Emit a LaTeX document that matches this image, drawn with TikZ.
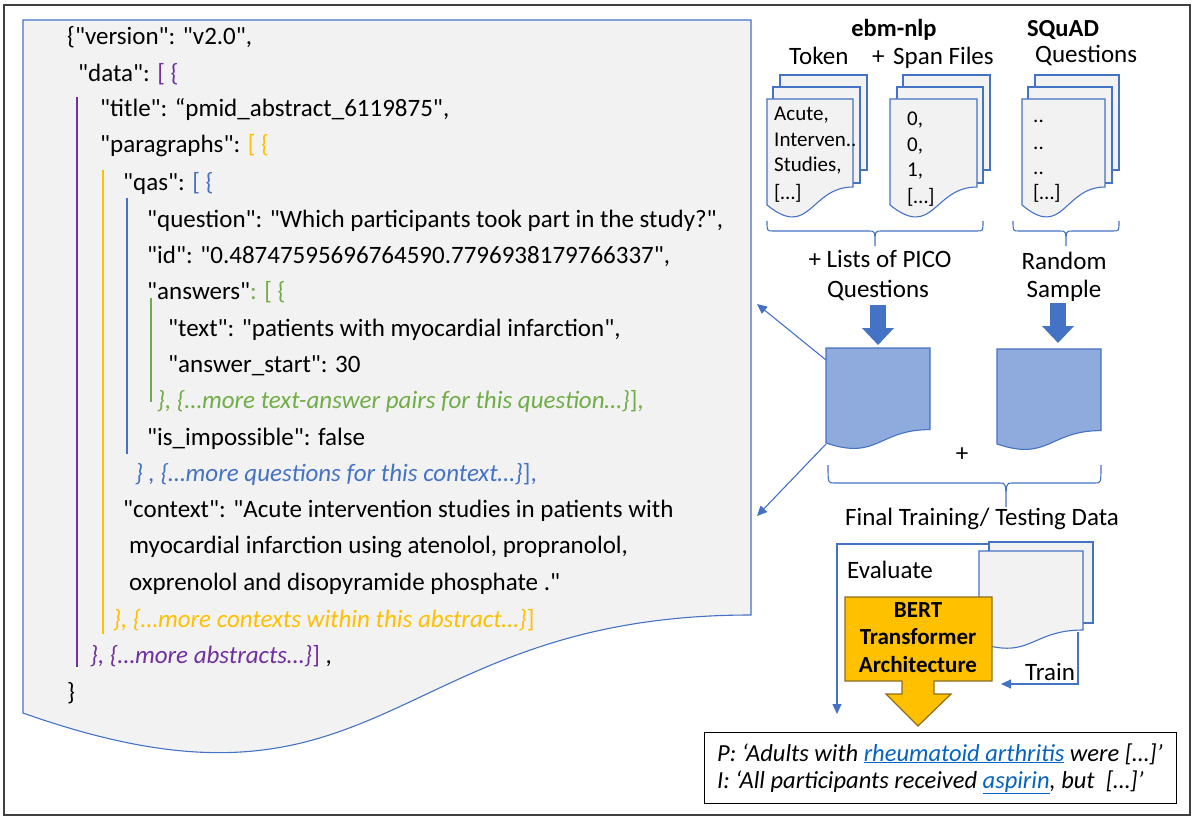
\documentclass[tikz,border=0pt]{standalone}
\usepackage{fontspec}
\setmainfont{Carlito}[Ligatures=TeXOff]
\usetikzlibrary{arrows.meta,calc}
\definecolor{docfill}{HTML}{F2F2F2}
\definecolor{docline}{HTML}{4472C4}
\definecolor{jpurple}{HTML}{7030A0}
\definecolor{jgold}{HTML}{FFC000}
\definecolor{jblue}{HTML}{4472C4}
\definecolor{jgreen}{HTML}{70AD47}
\definecolor{bluefill}{HTML}{8FAADC}
\definecolor{linkblue}{HTML}{0563C1}
\definecolor{bertline}{HTML}{8C6D1F}
\definecolor{framegray}{HTML}{404040}
\newcommand{\wdoc}[7]{%
  \path[#1] (#2,#3) -- ({#2+#4},#3) -- ({#2+#4},#5) .. controls ({#2+0.5*#4},#5) and ({#2+0.5*#4},#6) .. (#2,#7) -- cycle;}
\newcommand{\hbrace}[6]{%
  \draw[bracestyle] (#1,#4) .. controls (#1,#5) .. ({#1+6},#5) -- ({#3-6},#5) .. controls (#3,#5) .. (#3,#6)
    .. controls (#3,#5) .. ({#3+6},#5) -- ({#2-6},#5) .. controls (#2,#5) .. (#2,#4);}
\tikzset{
  json/.style={anchor=base west, inner sep=0pt, font=\fontsize{25}{30}\selectfont},
  lbl/.style={anchor=base, inner sep=0pt, font=\fontsize{25}{30}\selectfont},
  boldlbl/.style={anchor=base, inner sep=0pt, font=\fontsize{24.5}{30}\selectfont\bfseries},
  pagetxt/.style={anchor=base west, inner sep=0pt, font=\fontsize{21}{25}\selectfont},
  outtxt/.style={anchor=base west, inner sep=0pt, font=\fontsize{24.5}{29}\selectfont\itshape},
  berttxt/.style={anchor=base, inner sep=0pt, font=\fontsize{23}{28}\selectfont\bfseries},
  page/.style={fill=docfill, draw=docline, line width=1.1pt},
  bdoc/.style={fill=bluefill, draw=docline, line width=1.1pt},
  vbar/.style={line width=1.3pt},
  thinarrow/.style={draw=docline, line width=1.1pt, -{Triangle[length=10pt,width=9pt]}},
  thickarrow/.style={draw=docline, line width=16pt, -{Triangle[length=17pt,width=31pt]}},
  bracestyle/.style={draw=docline, line width=1.1pt},
}
\begin{document}
\begin{tikzpicture}[x=1pt,y=-1pt]
\useasboundingbox (0,0) rectangle (1196,821);
\draw[framegray, line width=2pt] (4,5) rectangle (1190,815);

% JSON document
\wdoc{page}{23}{20}{728}{615}{842}{713}
\draw[vbar, jpurple] (77,97) -- (77,667);
\draw[vbar, jgold] (103,170) -- (103,634);
\draw[vbar, jblue] (127,198) -- (127,454);
\draw[vbar, jgreen] (151,298) -- (151,402);

\node[json] (j1) at (67,45) {\{"version": "v2.0",};
\node[json] (j2) at (78,82) {"data": \textcolor{jpurple}{[ \{}};
\node[json] (j3) at (100,117) {"title": “pmid\_abstract\_6119875",};
\node[json] (j4) at (100,153) {"paragraphs": \textcolor{jgold}{[ \{}};
\node[json] (j5) at (123,190) {"qas": \textcolor{jblue}{[ \{}};
\node[json] (j6) at (147,227) {"question": "Which participants took part in the study?",};
\node[json] (j7) at (147,263) {"id": "0.48747595696764590.7796938179766337",};
\node[json] (j8) at (147,299) {"answers"\textcolor{jgreen}{: [ \{}};
\node[json] (j9) at (168,336) {"text": "patients with myocardial infarction",};
\node[json] (j10) at (168,372) {"answer\_start": 30};
\node[json, text=jgreen] (j11) at (157,408) {\itshape \}, \{…more text-answer pairs for this question…\}\upshape],};
\node[json] (j12) at (147,445) {"is\_impossible": false};
\node[json, text=jblue] (j13) at (135,481) {\itshape \} , \{…more questions for this context…\}\upshape],};
\node[json] (j14) at (123,517) {"context": "Acute intervention studies in patients with};
\node[json] (j15) at (129,553) {myocardial infarction using atenolol, propranolol,};
\node[json] (j16) at (129,590) {oxprenolol and disopyramide phosphate ."};
\node[json, text=jgold] (j17) at (113,627) {\itshape \}, \{…more contexts within this abstract…\}\upshape]};
\node[json] (j18) at (90,663) {\textcolor{jpurple}{\itshape \}, \{…more abstracts…\}\upshape]} ,};
\node[json] (j19) at (67,700) {\}};

% top labels
\node[boldlbl] (ebm) at (894,37) {ebm-nlp};
\node[boldlbl] (squad) at (1063,37) {SQuAD};
\node[lbl, anchor=base west] (token) at (789,65) {Token};
\node[lbl, anchor=base west] (plustop) at (872,65) {+};
\node[lbl, anchor=base west] (span) at (893,65) {Span Files};
\node[lbl, anchor=base west] (sq) at (1035,63) {Questions};

% token stack
\path[page] (780,75) rectangle (867,170);
\path[page] (773,87) rectangle (860,183);
\wdoc{page}{767}{99}{86}{187}{240}{205}
\node[pagetxt] (t1) at (774,121) {Acute,};
\node[pagetxt] (t2) at (774,147) {Interven..};
\node[pagetxt] (t3) at (774,172) {Studies,};
\node[pagetxt] (t4) at (774,200) {[…]};
% span stack
\path[page] (903,75) rectangle (990,170);
\path[page] (897,87) rectangle (983,183);
\wdoc{page}{890}{99}{87}{187}{240}{205}
\node[pagetxt] (s1) at (907,126) {0,};
\node[pagetxt] (s2) at (907,152) {0,};
\node[pagetxt] (s3) at (907,177) {1,};
\node[pagetxt] (s4) at (907,204) {[…]};
% squad stack
\path[page] (1035,75) rectangle (1119,170);
\path[page] (1028,87) rectangle (1112,183);
\wdoc{page}{1022}{99}{83}{187}{240}{205}
\node[pagetxt] (q1) at (1033,123) {..};
\node[pagetxt] (q2) at (1033,150) {..};
\node[pagetxt] (q3) at (1033,175) {..};
\node[pagetxt] (q4) at (1033,200) {[…]};

% braces
\hbrace{767}{983}{875}{221}{231}{246}
\hbrace{1013}{1119}{1066}{221}{231}{246}

\node[lbl] (pico1) at (880,267) {+ Lists of PICO};
\node[lbl] (pico2) at (878,297) {Questions};
\node[lbl] (rand1) at (1064,269) {Random};
\node[lbl] (rand2) at (1064,297) {Sample};

% blue docs
\wdoc{bdoc}{826}{348}{104}{429.6}{460.6}{443}
\wdoc{bdoc}{997}{349}{104}{430.6}{461.6}{444}
\coordinate (bd1top) at (878,345);
\coordinate (bd2top) at (1058,343);
\coordinate (pq) at (878,305);
\coordinate (rs) at (1058,303);
\draw[thickarrow] (pq) -- (bd1top);
\draw[thickarrow] (rs) -- (bd2top);
\node[lbl] (plus) at (962,461) {+};

\coordinate (bd1a) at (826,360);
\coordinate (bd1b) at (826,444);
\coordinate (jsonA) at (757,304);
\coordinate (jsonB) at (757,516);
\draw[thinarrow] (bd1a) -- (jsonA);
\draw[thinarrow] (bd1b) -- (jsonB);

\hbrace{828}{1101}{1006}{465}{483}{507}
\node[lbl] (final) at (982,525) {Final Training/ Testing Data};

% training docs
\path[page] (989,542) rectangle (1093,623);
\wdoc{page}{979}{551}{104}{630}{660}{643}
\coordinate (evs) at (989,544);
\coordinate (evc) at (837,544);
\coordinate (eve) at (837,714);
\draw[thinarrow] (evs) -- (evc) -- (eve);
\node[lbl, anchor=base west] (evaluate) at (847,578) {Evaluate};

% BERT
\path[fill=jgold, draw=bertline, line width=1.2pt] (845,597) -- (992,597) -- (992,681) -- (934,681) -- (934,694) -- (951,694) -- (918,726) -- (886,694) -- (902,694) -- (902,681) -- (845,681) -- cycle;
\node[berttxt] (b1) at (918,617) {BERT};
\node[berttxt] (b2) at (918,644) {Transformer};
\node[berttxt] (b3) at (918,672) {Architecture};

\coordinate (trs) at (1078,632);
\coordinate (trc) at (1078,684);
\coordinate (tre) at (1001,684);
\draw[thinarrow] (trs) -- (trc) -- (tre);
\node[lbl, anchor=base west] (train) at (1025,680) {Train};

% output box
\node[draw=black, line width=1.2pt, minimum width=472pt, minimum height=71pt, inner sep=0pt, anchor=north west] (outbox) at (704,732) {};
\node[outtxt] (o1) at (717,761) {P: ‘Adults with \textcolor{linkblue}{\underline{rheumatoid arthritis}} were […]’};
\node[outtxt] (o2) at (717,788) {I: ‘All participants received \textcolor{linkblue}{\underline{aspirin}}, but~ […]’};
\end{tikzpicture}
\end{document}
